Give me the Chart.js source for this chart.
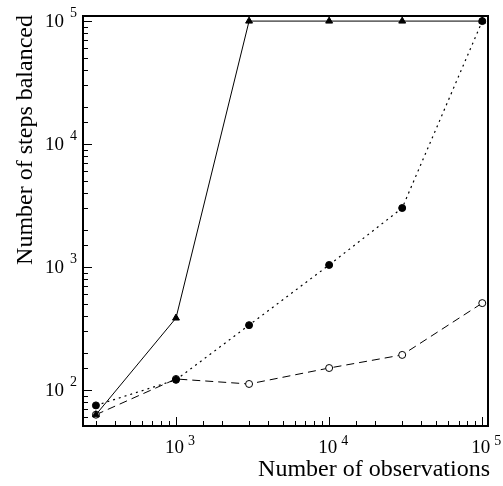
<!DOCTYPE html>
<html>
<head>
<meta charset="utf-8">
<script src="https://cdn.jsdelivr.net/npm/chart.js@4"></script>
<style>
  html, body { margin: 0; padding: 0; background: #fff; }
  #wrap { width: 503px; height: 486px; }
</style>
</head>
<body>
<div id="wrap"><canvas id="chart"></canvas></div>
<script>
// data
const observations = [300, 1000, 3000, 10000, 30000, 100000];
const stepsTriangle = [63, 385, 100000, 100000, 100000, 100000];
const stepsFilled = [75, 121, 337, 1040, 3020, 100000];
const stepsOpen = [63, 123, 112, 151, 193, 509];
const xTickPowers = [3, 4, 5];
const yTickPowers = [2, 3, 4, 5];
const xTitle = "Number of observations";
const yTitle = "Number of steps balanced";

const serif = '"Liberation Serif", "DejaVu Serif", serif';

function toPoints(ys) {
    return observations.map((x, i) => ({ x: x, y: ys[i] }));
}

function isDecade(v) {
    const l = Math.log10(v);
    return Math.abs(l - Math.round(l)) < 1e-9;
}

// frame, inward ticks, labels and titles
const axesPlugin = {
    id: 'axesPlugin',
    afterDraw(chart) {
        const ctx = chart.ctx;
        const a = chart.chartArea;
        const xs = chart.scales.x, ys = chart.scales.y;
        ctx.save();
        ctx.strokeStyle = '#000';

        // ticks pointing into the plot
        ctx.lineWidth = 1;
        xs.ticks.forEach(t => {
            const px = Math.round(xs.getPixelForValue(t.value)) + 0.5;
            if (px < a.left + 1 || px > a.right - 1) return;
            ctx.beginPath();
            ctx.moveTo(px, a.bottom);
            ctx.lineTo(px, a.bottom - (isDecade(t.value) ? 9 : 5));
            ctx.stroke();
        });
        ys.ticks.forEach(t => {
            const py = Math.round(ys.getPixelForValue(t.value)) + 0.5;
            if (py < a.top + 1 || py > a.bottom - 1) return;
            ctx.beginPath();
            ctx.moveTo(a.left, py);
            ctx.lineTo(a.left + (isDecade(t.value) ? 9 : 5), py);
            ctx.stroke();
        });

        // frame
        ctx.lineWidth = 2;
        ctx.strokeRect(a.left, a.top, a.right - a.left, a.bottom - a.top);

        // tick labels 10^n
        ctx.fillStyle = '#000';
        ctx.textBaseline = 'alphabetic';
        xTickPowers.forEach(p => {
            const px = xs.getPixelForValue(Math.pow(10, p));
            ctx.font = '19px ' + serif;
            ctx.textAlign = 'right';
            ctx.fillText('10', px + 8, a.bottom + 27);
            ctx.font = '14px ' + serif;
            ctx.textAlign = 'left';
            ctx.fillText(String(p), px + 12, a.bottom + 19);
        });
        yTickPowers.forEach(p => {
            const py = ys.getPixelForValue(Math.pow(10, p));
            ctx.font = '19px ' + serif;
            ctx.textAlign = 'right';
            ctx.fillText('10', a.left - 19, py + 6);
            ctx.font = '14px ' + serif;
            ctx.textAlign = 'left';
            ctx.fillText(String(p), a.left - 13, py - 4);
        });

        // axis titles
        ctx.font = '24px ' + serif;
        ctx.textAlign = 'right';
        ctx.fillText(xTitle, a.right + 2, a.bottom + 50);
        ctx.save();
        ctx.translate(32, a.top - 1);
        ctx.rotate(-Math.PI / 2);
        ctx.textAlign = 'right';
        ctx.fillText(yTitle, 0, 0);
        ctx.restore();

        ctx.restore();
    }
};

new Chart(document.getElementById('chart'), {
    type: 'scatter',
    data: {
        datasets: [{
            data: toPoints(stepsTriangle),
            showLine: true,
            borderColor: '#000',
            backgroundColor: '#000',
            borderWidth: 1,
            pointStyle: 'triangle',
            pointRadius: 4,
            pointBorderWidth: 1
        }, {
            data: toPoints(stepsFilled),
            showLine: true,
            borderColor: '#000',
            backgroundColor: '#000',
            borderWidth: 1.2,
            borderDash: [2, 4],
            pointStyle: 'circle',
            pointRadius: 3.5,
            pointBorderWidth: 1
        }, {
            data: toPoints(stepsOpen),
            showLine: true,
            borderColor: '#000',
            backgroundColor: '#fff',
            borderWidth: 1,
            borderDash: [8, 5],
            pointStyle: 'circle',
            pointRadius: 3.5,
            pointBorderWidth: 1
        }]
    },
    options: {
        responsive: true,
        maintainAspectRatio: false,
        animation: false,
        clip: false,
        layout: { padding: { top: 16, right: 15, left: 0, bottom: 0 } },
        plugins: { legend: { display: false }, tooltip: { enabled: false } },
        scales: {
            x: {
                type: 'logarithmic',
                min: 247,
                max: 109000,
                grid: { display: false, drawTicks: false },
                border: { display: false },
                ticks: { display: false },
                afterFit(s) { s.height = 60; }
            },
            y: {
                type: 'logarithmic',
                min: 51,
                max: 110000,
                grid: { display: false, drawTicks: false },
                border: { display: false },
                ticks: { display: false },
                afterFit(s) { s.width = 83; }
            }
        }
    },
    plugins: [axesPlugin]
});
</script>
</body>
</html>
